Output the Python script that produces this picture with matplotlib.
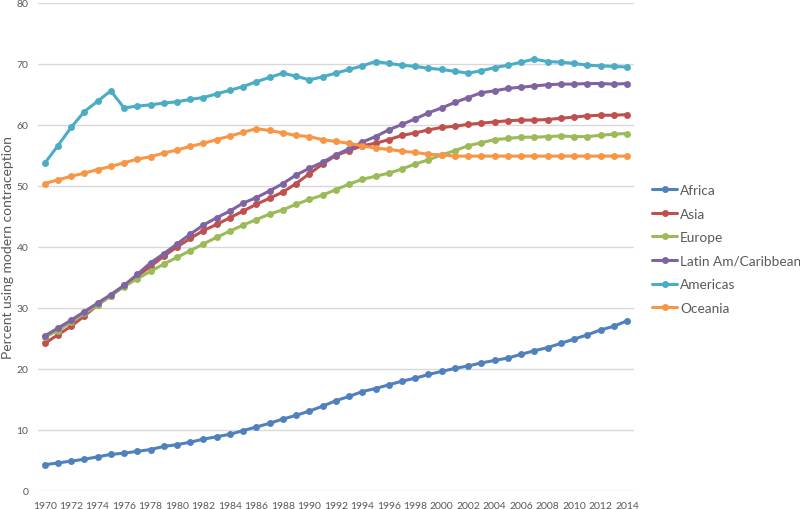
import matplotlib
matplotlib.use("Agg")
import matplotlib.pyplot as plt

plt.rcParams['font.family'] = ['Lato', 'DejaVu Sans']

years = list(range(1970, 2015))

africa = [4.3, 4.6, 4.9, 5.2, 5.6, 6.0, 6.2, 6.5, 6.8, 7.3,
          7.6, 8.0, 8.5, 8.9, 9.3, 9.9, 10.5, 11.1, 11.8, 12.4,
          13.1, 13.9, 14.8, 15.5, 16.3, 16.8, 17.4, 18.0, 18.5, 19.1,
          19.6, 20.1, 20.5, 21.0, 21.4, 21.8, 22.4, 23.0, 23.5, 24.2,
          24.9, 25.6, 26.4, 27.0, 27.9]
asia = [24.2, 25.6, 27.0, 28.7, 30.5, 32.0, 33.7, 35.2, 36.8, 38.5,
        40.0, 41.4, 42.7, 43.7, 44.8, 45.9, 47.0, 48.0, 49.0, 50.4,
        52.0, 53.6, 55.0, 55.8, 56.6, 57.0, 57.6, 58.3, 58.7, 59.2,
        59.6, 59.8, 60.1, 60.3, 60.5, 60.7, 60.8, 60.8, 60.9, 61.1,
        61.3, 61.5, 61.6, 61.6, 61.7]
europe = [25.2, 26.3, 27.7, 29.1, 30.5, 32.0, 33.5, 34.8, 36.0, 37.2,
          38.3, 39.4, 40.5, 41.6, 42.6, 43.6, 44.5, 45.4, 46.1, 47.0,
          47.8, 48.5, 49.4, 50.3, 51.1, 51.6, 52.1, 52.8, 53.6, 54.3,
          55.1, 55.8, 56.6, 57.1, 57.6, 57.8, 58.0, 58.0, 58.1, 58.2,
          58.1, 58.1, 58.3, 58.5, 58.6]
latin_am = [25.4, 26.7, 28.0, 29.4, 30.8, 32.2, 33.7, 35.5, 37.4, 38.9,
            40.5, 42.1, 43.6, 44.8, 45.9, 47.2, 48.1, 49.2, 50.4, 51.8,
            52.9, 53.9, 55.1, 56.1, 57.2, 58.1, 59.2, 60.1, 61.0, 62.0,
            62.8, 63.7, 64.5, 65.3, 65.6, 66.0, 66.2, 66.4, 66.6, 66.7,
            66.7, 66.8, 66.8, 66.7, 66.8]
americas = [53.7, 56.6, 59.6, 62.2, 63.9, 65.6, 62.8, 63.1, 63.3, 63.6,
            63.8, 64.2, 64.5, 65.1, 65.7, 66.3, 67.1, 67.8, 68.5, 68.0,
            67.4, 67.9, 68.5, 69.1, 69.7, 70.4, 70.1, 69.8, 69.6, 69.3,
            69.1, 68.8, 68.5, 68.9, 69.4, 69.8, 70.3, 70.8, 70.4, 70.3,
            70.1, 69.8, 69.7, 69.6, 69.5]
oceania = [50.4, 51.0, 51.6, 52.1, 52.7, 53.2, 53.8, 54.4, 54.8, 55.4,
           55.9, 56.5, 57.0, 57.6, 58.2, 58.8, 59.4, 59.1, 58.7, 58.3,
           58.1, 57.6, 57.3, 57.0, 56.6, 56.2, 56.0, 55.7, 55.5, 55.2,
           55.1, 54.9, 54.9, 54.9, 54.9, 54.9, 54.9, 54.9, 54.9, 54.9,
           54.9, 54.9, 54.9, 54.9, 54.9]

series_names = ["Africa", "Asia", "Europe", "Latin Am/Caribbean", "Americas", "Oceania"]
series_values = [africa, asia, europe, latin_am, americas, oceania]
colors = ["#4F81BD", "#C0504D", "#9BBB59", "#8064A2", "#4BACC6", "#F79646"]

y_label = "Percent using modern contraception"

fig = plt.figure(figsize=(8, 5.1), dpi=100)
ax = fig.add_axes([38 / 800, 18 / 510, (633.6 - 38) / 800, 488 / 510])

for name, vals, c in zip(series_names, series_values, colors):
    ax.plot(years, vals, color=c, lw=2.2, marker='o', markersize=5,
            markeredgewidth=0, label=name, solid_capstyle='round')

ax.set_xlim(1969.5, 2014.5)
ax.set_ylim(0, 80)
ax.set_yticks(range(0, 81, 10))
ax.set_xticks(years[::2])
ax.grid(axis='y', color='#D9D9D9', lw=1)
ax.set_axisbelow(True)
for s in ax.spines.values():
    s.set_visible(False)
ax.tick_params(axis='both', length=0, colors='#595959', labelsize=7.5)
ax.tick_params(axis='x', pad=7)
ax.tick_params(axis='y', pad=7)

ax.set_ylabel(y_label, fontsize=10, color='#595959')
ax.yaxis.set_label_coords(-0.041, 0.5)

leg = ax.legend(loc='upper left', bbox_to_anchor=(652 / 800, (510 - 185) / 510),
                bbox_transform=fig.transFigure, frameon=False, fontsize=9.8,
                handlelength=1.85, handletextpad=0.2, labelspacing=0.85,
                borderaxespad=0, borderpad=0)
for t in leg.get_texts():
    t.set_color('#595959')

fig.savefig("out.png", dpi=100)
